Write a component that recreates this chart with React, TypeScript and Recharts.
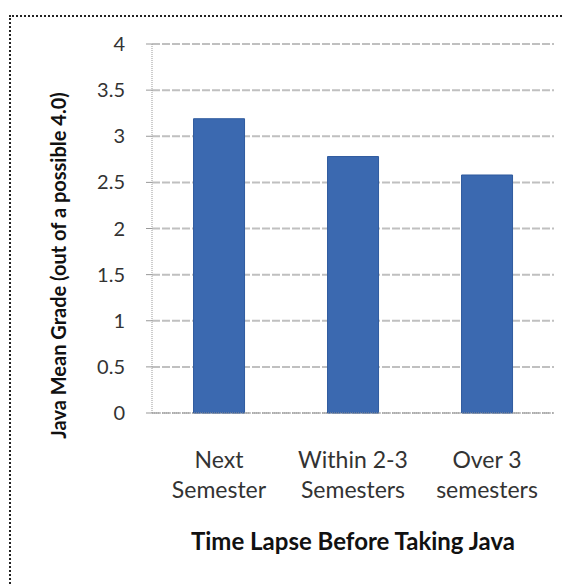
import React from 'react';
import { BarChart, Bar, XAxis, YAxis, CartesianGrid, Label } from 'recharts';

const lineOne = ['Next', 'Within 2-3', 'Over 3'];
const lineTwo = ['Semester', 'Semesters', 'semesters'];
const meanGrades = [3.19, 2.78, 2.58];
const yTicks = [0, 0.5, 1, 1.5, 2, 2.5, 3, 3.5, 4];

const data = lineOne.map((top, i) => ({
  name: `${top} ${lineTwo[i]}`,
  top,
  bottom: lineTwo[i],
  grade: meanGrades[i],
}));

const FONT = 'Lato, "Open Sans", sans-serif';

const CategoryTick = (props: any) => {
  const { x, y, index } = props;
  return (
    <g>
      <text x={x} y={y + 47} textAnchor="middle" fontSize={23} fill="#333" fontFamily={FONT}>
        {lineOne[index]}
      </text>
      <text x={x} y={y + 77} textAnchor="middle" fontSize={23} fill="#333" fontFamily={FONT}>
        {lineTwo[index]}
      </text>
    </g>
  );
};

// y title sits a bit below the plot middle, like the original
const YTitle = (props: any) => {
  const { viewBox } = props;
  const cx = viewBox.x + 50;
  const cy = viewBox.y + viewBox.height / 2 + 37;
  return (
    <text
      x={cx}
      y={cy}
      transform={`rotate(-90, ${cx}, ${cy})`}
      textAnchor="middle"
      dominantBaseline="central"
      fontSize={20}
      fontWeight={700}
      fill="#111"
      fontFamily={FONT}
    >
      Java Mean Grade (out of a possible 4.0)
    </text>
  );
};

const App: React.FC = () => {
  return (
    <div style={{ position: 'relative', width: 563, height: 576 }}>
      <div
        style={{
          position: 'absolute',
          left: 1,
          top: 7,
          width: 580,
          height: 600,
          border: '2px dotted #222',
          boxSizing: 'border-box',
        }}
      />
      <BarChart
        width={563}
        height={576}
        data={data}
        margin={{ top: 36, right: 17, bottom: 71, left: 0 }}
        barCategoryGap="31%"
        style={{ position: 'absolute', left: 0, top: 0 }}
      >
        <CartesianGrid vertical={false} stroke="#c0c0c0" strokeWidth={2} strokeDasharray="8 2" />
        <XAxis
          dataKey="name"
          height={100}
          tick={<CategoryTick />}
          tickLine={false}
          axisLine={{ stroke: '#999', strokeDasharray: '1 1' }}
          interval={0}
        >
          <Label
            value="Time Lapse Before Taking Java"
            position="insideBottom"
            offset={-37}
            style={{ fontSize: 24, fontWeight: 700, fill: '#111', fontFamily: FONT }}
          />
        </XAxis>
        <YAxis
          width={144}
          domain={[0, 4]}
          ticks={yTicks}
          interval={0}
          tickSize={6}
          tickMargin={21}
          tick={{ fontSize: 20, fill: '#333', fontFamily: FONT }}
          tickLine={{ stroke: '#999' }}
          axisLine={{ stroke: '#999', strokeDasharray: '1 1' }}
        >
          <Label content={<YTitle />} />
        </YAxis>
        <Bar dataKey="grade" fill="#3b69b0" stroke="#2f5a9e" strokeWidth={1} isAnimationActive={false} />
      </BarChart>
    </div>
  );
};

export default App;
